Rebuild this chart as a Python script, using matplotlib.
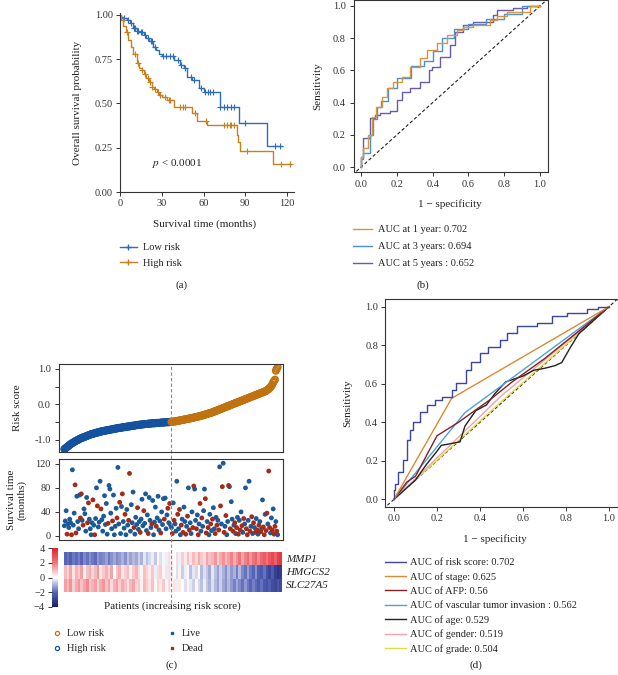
import numpy as np
import matplotlib.pyplot as plt
from matplotlib.colors import LinearSegmentedColormap
from matplotlib.lines import Line2D

plt.rcParams.update({
    "font.family": "serif",
    "font.serif": ["Liberation Serif", "DejaVu Serif"],
    "mathtext.fontset": "stix",
    "font.size": 8,
    "axes.linewidth": 0.8,
    "axes.edgecolor": "#333333",
    "text.color": "#222222",
    "xtick.color": "#333333", "ytick.color": "#333333",
    "xtick.labelsize": 7.5, "ytick.labelsize": 7.5,
    "xtick.major.size": 3, "ytick.major.size": 3,
    "xtick.major.width": 0.7, "ytick.major.width": 0.7,
})

# ---------------- (a) Kaplan-Meier ----------------
KM_LOW_T = [0, 1, 2, 3, 4.8, 7, 9.6, 12, 14, 17, 19, 21, 24, 26, 27.7, 30, 38.5, 43, 45.8,
            48, 51.9, 56.6, 60, 71.7, 85.4, 105.6, 116.7]
KM_LOW_S = [1.0, 0.99, 0.985, 0.98, 0.972, 0.955, 0.925, 0.91, 0.90, 0.887, 0.87, 0.85, 0.82,
            0.80, 0.78, 0.765, 0.746, 0.717, 0.70, 0.65, 0.633, 0.586, 0.567, 0.482, 0.388,
            0.262, 0.262]
KM_HIGH_T = [0, 1, 2.4, 4, 6, 8, 9.6, 12, 14, 15.6, 17, 19, 21, 22.8, 24.5, 26.4, 28, 30, 33.6,
             38.5, 51.9, 55, 62.5, 83.8, 85, 86, 110, 122.6]
KM_HIGH_S = [1.0, 0.97, 0.934, 0.90, 0.859, 0.82, 0.78, 0.727, 0.70, 0.689, 0.665, 0.642, 0.62,
             0.595, 0.58, 0.567, 0.55, 0.538, 0.52, 0.482, 0.445, 0.403, 0.378, 0.322, 0.284,
             0.233, 0.158, 0.158]
CENS_LOW = [3, 6, 8, 10, 11, 12.5, 13, 15, 16, 18, 20, 22, 23, 25, 31, 33, 36, 38, 42, 44, 47,
            51, 53, 58, 61, 63, 65, 67, 72, 75, 77, 80, 82, 90, 111, 115]
CENS_HIGH = [2, 5, 11, 13, 16, 18, 20, 21.5, 23, 25, 27, 29, 32, 35, 36, 43, 45, 47, 54, 62,
             75, 77, 79, 80, 82, 91, 116, 122]

# ---------------- (b) time-dependent ROC ----------------
ROC1_X = [0, 0.01, 0.04, 0.06, 0.084, 0.115, 0.143, 0.18, 0.227, 0.274, 0.33, 0.367, 0.423,
          0.479, 0.535, 0.572, 0.627, 0.72, 0.758, 0.814, 0.944, 1.0]
ROC1_Y = [0, 0.064, 0.116, 0.20, 0.31, 0.375, 0.437, 0.49, 0.53, 0.561, 0.623, 0.675, 0.727,
          0.772, 0.82, 0.851, 0.871, 0.882, 0.913, 0.938, 0.965, 1.0]
ROC3_X = [0, 0.01, 0.05, 0.065, 0.09, 0.11, 0.15, 0.20, 0.28, 0.35, 0.40, 0.45, 0.52, 0.60,
          0.70, 0.80, 0.90, 1.0]
ROC3_Y = [0, 0.05, 0.09, 0.20, 0.30, 0.37, 0.41, 0.49, 0.55, 0.63, 0.66, 0.72, 0.80, 0.86,
          0.89, 0.92, 0.95, 1.0]
ROC5_X = [0, 0.01, 0.022, 0.05, 0.078, 0.106, 0.162, 0.20, 0.227, 0.274, 0.33, 0.377, 0.395,
          0.441, 0.497, 0.525, 0.572, 0.627, 0.739, 0.758, 0.851, 0.926, 1.0]
ROC5_Y = [0, 0.06, 0.178, 0.178, 0.302, 0.32, 0.333, 0.35, 0.416, 0.468, 0.489, 0.53, 0.60,
          0.623, 0.685, 0.758, 0.84, 0.882, 0.903, 0.944, 0.975, 0.986, 1.0]
ROC_B_LABELS = ["AUC at 1 year: 0.702", "AUC at 3 years: 0.694", "AUC at 5 years : 0.652"]

# ---------------- (c) risk plot ----------------
RISK_SCORE = [
    -1.26, -1.24, -1.22, -1.20, -1.18, -1.16, -1.14, -1.12, -1.10, -1.09,
    -1.07, -1.06, -1.04, -1.03, -1.01, -1.00, -0.99, -0.97, -0.96, -0.95,
    -0.94, -0.93, -0.92, -0.91, -0.90, -0.89, -0.88, -0.87, -0.86, -0.85,
    -0.84, -0.83, -0.83, -0.82, -0.81, -0.80, -0.80, -0.79, -0.78, -0.78,
    -0.77, -0.76, -0.76, -0.75, -0.75, -0.74, -0.74, -0.73, -0.73, -0.72,
    -0.72, -0.71, -0.71, -0.70, -0.70, -0.69, -0.69, -0.68, -0.68, -0.67,
    -0.67, -0.66, -0.66, -0.66, -0.65, -0.65, -0.64, -0.64, -0.64, -0.63,
    -0.63, -0.62, -0.62, -0.62, -0.61, -0.61, -0.60, -0.60, -0.60, -0.59,
    -0.59, -0.58, -0.58, -0.58, -0.57, -0.57, -0.57, -0.56, -0.56, -0.56,
    -0.55, -0.55, -0.55, -0.55, -0.54, -0.54, -0.54, -0.54, -0.53, -0.53,
    -0.53, -0.53, -0.53, -0.52, -0.52, -0.52, -0.52, -0.52, -0.51, -0.51,
    -0.51, -0.51, -0.51, -0.50, -0.50, -0.50, -0.50, -0.50, -0.49, -0.49,
    -0.49, -0.49, -0.48, -0.48, -0.48, -0.47, -0.47, -0.46, -0.46, -0.45,
    -0.45, -0.44, -0.44, -0.43, -0.43, -0.42, -0.42, -0.41, -0.41, -0.40,
    -0.40, -0.39, -0.39, -0.38, -0.38, -0.37, -0.36, -0.36, -0.35, -0.35,
    -0.34, -0.33, -0.33, -0.32, -0.31, -0.31, -0.30, -0.29, -0.28, -0.28,
    -0.27, -0.26, -0.25, -0.24, -0.24, -0.23, -0.22, -0.21, -0.20, -0.19,
    -0.18, -0.17, -0.16, -0.15, -0.14, -0.13, -0.12, -0.11, -0.10, -0.09,
    -0.08, -0.07, -0.06, -0.05, -0.04, -0.03, -0.02, -0.01, 0.00, 0.01,
    0.02, 0.03, 0.04, 0.05, 0.06, 0.07, 0.08, 0.09, 0.10, 0.11,
    0.12, 0.13, 0.14, 0.15, 0.16, 0.17, 0.18, 0.19, 0.20, 0.21,
    0.22, 0.23, 0.24, 0.25, 0.26, 0.27, 0.28, 0.29, 0.30, 0.31,
    0.32, 0.33, 0.34, 0.35, 0.36, 0.37, 0.38, 0.40, 0.42, 0.44,
    0.46, 0.49, 0.52, 0.56, 0.62, 0.66, 0.70, 0.95, 1.00, 1.05,
]
SURV_TIME = [
    17, 25, 42, 3, 20, 14, 28, 22, 2, 110, 18, 38, 85, 5, 66, 24, 12, 68, 30, 70,
    26, 18, 45, 37, 8, 64, 22, 55, 28, 12, 2, 22, 60, 18, 2, 29, 80, 50, 15, 23,
    91, 45, 27, 8, 33, 67, 19, 54, 3, 21, 84, 78, 38, 12, 25, 68, 2, 16, 46, 30,
    114, 20, 56, 4, 49, 70, 24, 13, 36, 2, 44, 18, 26, 104, 8, 52, 22, 73, 14, 3,
    31, 19, 47, 11, 24, 6, 28, 61, 17, 42, 21, 70, 9, 35, 4, 64, 26, 14, 20, 59,
    2, 23, 48, 16, 30, 66, 10, 25, 5, 40, 19, 62, 28, 63, 12, 35, 46, 22, 54, 18,
    14, 4, 55, 26, 20, 8, 91, 36, 12, 44, 2, 18, 28, 6, 48, 24, 3, 16, 33, 80,
    10, 22, 4, 40, 14, 83, 78, 26, 12, 35, 2, 20, 54, 8, 30, 16, 42, 78, 62, 5,
    24, 14, 2, 36, 20, 9, 28, 47, 12, 4, 31, 18, 26, 10, 115, 50, 20, 82, 121, 6,
    16, 34, 2, 24, 84, 82, 12, 57, 28, 8, 18, 22, 4, 14, 31, 3, 26, 10, 40, 17,
    6, 29, 20, 80, 12, 2, 26, 91, 8, 16, 32, 4, 22, 14, 6, 29, 10, 3, 18, 24,
    7, 12, 60, 15, 2, 36, 9, 38, 20, 108, 14, 5, 30, 10, 45, 3, 16, 24, 8, 2,
]
DEAD = [
    0, 0, 0, 1, 0, 0, 0, 0, 1, 0, 0, 0, 1, 1, 0, 0, 0, 0, 1, 1,
    0, 1, 0, 0, 0, 0, 1, 1, 0, 0, 0, 0, 1, 0, 1, 0, 0, 1, 0, 0,
    0, 1, 0, 0, 0, 0, 0, 0, 0, 1, 0, 0, 0, 0, 1, 0, 0, 0, 0, 1,
    0, 0, 1, 0, 0, 1, 0, 0, 1, 0, 0, 0, 1, 1, 0, 0, 0, 0, 1, 0,
    0, 0, 1, 0, 0, 1, 0, 0, 0, 1, 0, 0, 0, 0, 1, 0, 0, 0, 1, 0,
    0, 0, 0, 1, 0, 0, 0, 0, 1, 0, 0, 0, 1, 0, 0, 0, 1, 0, 1, 0,
    0, 1, 0, 1, 0, 0, 0, 1, 0, 1, 0, 1, 0, 1, 0, 0, 1, 0, 1, 0,
    1, 0, 0, 0, 1, 1, 0, 0, 1, 0, 1, 0, 1, 0, 1, 0, 0, 0, 1, 1,
    0, 1, 0, 0, 1, 0, 1, 0, 0, 1, 0, 1, 0, 1, 0, 1, 0, 1, 0, 1,
    0, 1, 0, 0, 1, 0, 1, 0, 0, 1, 0, 1, 0, 1, 0, 1, 0, 1, 0, 1,
    0, 1, 0, 0, 1, 1, 0, 0, 1, 0, 1, 0, 1, 0, 1, 0, 1, 0, 1, 0,
    1, 0, 0, 1, 1, 0, 1, 1, 0, 1, 1, 0, 0, 1, 0, 1, 1, 0, 1, 0,
]
GENES = ["MMP1", "HMGCS2", "SLC27A5"]
EXPR_MMP1 = [
    -2.0, -1.8, -2.1, -1.7, -1.9, -1.6, -2.0, -1.5, -1.8, -1.4, -1.7, -1.9, -1.3, -1.6, -1.5, -1.2, -1.7, -1.4, -1.1, -1.5,
    -1.3, -1.0, -1.4, -0.8, -1.2, -0.9, -1.1, -0.6, -1.0, -0.3, -0.8, -0.5, -0.2, -0.7, 0.1, -0.4, -0.1, 0.3, -0.3, 0.2,
    0.0, 0.5, -0.2, 0.7, 0.3, 0.9, 0.4, 1.0, 0.6, 1.2, 0.8, 0.5, 1.3, 0.9, 1.1, 1.5, 0.7, 1.2, 1.6, 1.0,
    1.4, 1.8, 1.1, 1.6, 2.0, 1.3, 1.8, 2.2, 1.5, 2.0, 2.4, 1.7, 2.3, 2.6, 2.0, 2.7, 3.0, 2.5, 3.2, 3.4,
]
EXPR_HMGCS2 = [
    1.0, 0.6, 1.3, 0.4, 1.1, 0.8, 1.4, 0.2, 0.9, 1.2, 0.5, 1.0, 1.5, 0.3, 0.8, 1.1, 0.6, 1.3, 0.0, 0.9,
    1.2, 0.4, 0.7, 1.0, 0.2, 0.8, 1.1, 0.5, -0.1, 0.9, 0.6, 0.3, 0.8, -0.2, 0.5, 0.7, 0.1, 0.4, -0.3, 0.3,
    0.0, -0.4, 0.2, -0.6, -0.2, 0.1, -0.8, -0.3, -0.5, 0.0, -0.9, -0.4, -0.7, -1.1, -0.3, -0.8, -1.2, -0.6, -1.0, -1.4,
    -0.8, -1.3, -1.0, -1.6, -0.9, -1.5, -1.8, -1.2, -1.7, -2.0, -1.4, -2.1, -2.3, -1.8, -2.5, -2.8, -2.2, -3.0, -3.3, -3.1,
]
EXPR_SLC27A5 = [
    1.4, 1.0, 1.6, 0.7, 1.2, 1.5, 0.9, 1.3, 1.7, 0.8, 1.1, 1.4, 0.6, 1.2, 1.5, 0.9, 1.3, 0.5, 1.1, 1.4,
    0.7, 1.2, 0.9, 0.4, 1.0, 1.3, 0.6, 0.8, 0.2, 1.0, 0.7, 0.4, 0.9, 0.1, 0.6, 0.3, 0.8, -0.1, 0.5, 0.2,
    0.4, -0.2, 0.3, 0.0, -0.4, 0.2, -0.3, -0.6, 0.1, -0.5, -0.8, -0.2, -0.7, -1.0, -0.4, -0.9, -1.2, -0.6, -1.1, -1.4,
    -0.9, -1.3, -1.6, -1.1, -1.5, -1.8, -1.3, -1.7, -2.0, -1.6, -1.9, -2.2, -1.8, -2.3, -2.5, -2.1, -2.6, -2.8, -2.4, -2.7,
]

# ---------------- (d) ROC of clinical factors ----------------
ROCD = [
    ("AUC of risk score: 0.702", "#3B479C",
     [0, 0.005, 0.02, 0.043, 0.059, 0.074, 0.09, 0.121, 0.152, 0.19, 0.222, 0.268, 0.29, 0.337,
      0.36, 0.40, 0.439, 0.493, 0.524, 0.571, 0.664, 0.733, 0.803, 0.896, 0.95, 1.0],
     [0, 0.047, 0.08, 0.142, 0.203, 0.307, 0.36, 0.403, 0.455, 0.49, 0.516, 0.533, 0.568, 0.603,
      0.672, 0.715, 0.759, 0.793, 0.828, 0.863, 0.898, 0.915, 0.95, 0.967, 0.99, 1.0]),
    ("AUC of stage: 0.625", "#D98A35", [0, 0.268, 1.0], [0, 0.524, 1.0]),
    ("AUC of AFP: 0.56", "#8B1E22",
     [0, 0.06, 0.10, 0.20, 0.30, 0.45, 0.55, 0.70, 1.0],
     [0, 0.09, 0.12, 0.33, 0.40, 0.52, 0.61, 0.73, 1.0]),
    ("AUC of vascular tumor invasion : 0.562", "#4BA3D9", [0, 0.33, 1.0], [0, 0.45, 1.0]),
    ("AUC of age: 0.529", "#222222",
     [0, 0.05, 0.10, 0.15, 0.20, 0.22, 0.307, 0.33, 0.38, 0.43, 0.47, 0.52, 0.60, 0.65, 0.70,
      0.749, 0.78, 0.819, 0.86, 0.90, 0.95, 1.0],
     [0, 0.05, 0.10, 0.18, 0.25, 0.28, 0.298, 0.38, 0.46, 0.49, 0.55, 0.61, 0.64, 0.67, 0.68,
      0.694, 0.71, 0.786, 0.86, 0.90, 0.95, 1.0]),
    ("AUC of gender: 0.519", "#F3A2AE", [0, 0.5, 1.0], [0, 0.538, 1.0]),
    ("AUC of grade: 0.504", "#E2DB45", [0, 0.5, 1.0], [0, 0.508, 1.0]),
]

BLUE, ORANGE = "#2E6DBA", "#C8801E"
RISK_BLUE, RISK_ORANGE = "#1452A0", "#C0720F"
LIVE_BLUE, DEAD_RED = "#1B5A98", "#A52A17"

W, H = 618, 675
fig = plt.figure(figsize=(W / 100, H / 100), dpi=100)


def rect(l, t, r, b):
    return [l / W, 1 - b / H, (r - l) / W, (b - t) / H]


def ftext(x, y, s, **kw):
    kw.setdefault("ha", "center")
    kw.setdefault("va", "center")
    fig.text(x / W, 1 - y / H, s, **kw)


def fig_legend(handles, labels, x, y, **kw):
    kw.setdefault("fontsize", 7.5)
    return fig.legend(handles, labels, loc="upper left", bbox_to_anchor=(x / W, 1 - y / H),
                      frameon=False, borderpad=0, borderaxespad=0, **kw)


def step_value(times, surv, t):
    i = np.searchsorted(times, t, side="right") - 1
    return np.asarray(surv)[i]


# ---- (a)
axa = fig.add_axes(rect(120, 13, 294, 192))
for T, S, C, col in [(KM_LOW_T, KM_LOW_S, CENS_LOW, BLUE), (KM_HIGH_T, KM_HIGH_S, CENS_HIGH, ORANGE)]:
    axa.step(T, S, where="post", color=col, lw=1.0)
    axa.plot(C, step_value(T, S, C), "+", color=col, ms=4, mew=0.8)
axa.set_xlim(0, 125)
axa.set_ylim(0, 1.01)
axa.set_xticks([0, 30, 60, 90, 120])
axa.set_yticks([0, 0.25, 0.5, 0.75, 1.0])
axa.set_yticklabels(["0.00", "0.25", "0.50", "0.75", "1.00"])
axa.spines[["top", "right"]].set_visible(False)
axa.tick_params(pad=2)
axa.text(23, 0.16, "$p$ < 0.0001", fontsize=8, ha="left", va="center")
ftext(205, 224, "Survival time (months)", fontsize=8)
ftext(77, 103, "Overall survival probability", fontsize=8, rotation=90)
fig_legend([Line2D([], [], color=BLUE, marker="+", ms=4, lw=1),
            Line2D([], [], color=ORANGE, marker="+", ms=4, lw=1)],
           ["Low risk", "High risk"], 120, 243, handlelength=1.6, handletextpad=0.6,
           labelspacing=0.6)
ftext(182, 285, "(a)", fontsize=8)

# ---- (b)
axb = fig.add_axes(rect(354, 0, 548, 172))
axb.plot([-0.05, 1.06], [-0.05, 1.06], ls="--", color="#222222", lw=0.8, dashes=(3, 2))
for X, Y, col in [(ROC5_X, ROC5_Y, "#6B5AA6"), (ROC3_X, ROC3_Y, "#4C8FD6"), (ROC1_X, ROC1_Y, "#D8963A")]:
    axb.plot(X, Y, drawstyle="steps-pre", color=col, lw=1.0)
axb.set_xlim(-0.04, 1.045)
axb.set_ylim(-0.031, 1.037)
axb.set_xticks(np.arange(0, 1.01, 0.2))
axb.set_yticks(np.arange(0, 1.01, 0.2))
axb.xaxis.set_major_formatter("{x:.1f}")
axb.yaxis.set_major_formatter("{x:.1f}")
axb.tick_params(axis="y", pad=3)
axb.tick_params(axis="x", pad=3)
ftext(450, 204, "1 \u2212 specificity", fontsize=8)
ftext(318, 86, "Sensitivity", fontsize=8, rotation=90)
fig_legend([Line2D([], [], color=c, lw=1) for c in ["#D8963A", "#4C8FD6", "#6B5AA6"]],
           ROC_B_LABELS, 353, 225, handlelength=1.8, handletextpad=0.6, labelspacing=0.75)
ftext(423, 285, "(b)", fontsize=8)

# ---- (c)
risk = np.array(RISK_SCORE)
stime = np.array(SURV_TIME)
dead = np.array(DEAD, dtype=bool)
n = len(risk)
idx = np.arange(n)
cut = n // 2
xl = (-0.025 * n, n - 1 + 0.025 * n)

axr = fig.add_axes(rect(59, 364, 283, 452))
axr.scatter(idx[:cut], risk[:cut], s=20, facecolors="none", edgecolors=RISK_BLUE, linewidths=1.3)
axr.scatter(idx[cut:], risk[cut:], s=20, facecolors="none", edgecolors=RISK_ORANGE, linewidths=1.3)
axr.set_xlim(xl)
axr.set_ylim(-1.34, 1.14)
axr.set_xticks([])
axr.set_yticks([-1, -0.5, 0, 0.5, 1])
axr.set_yticklabels(["-1.0", "", "0.0", "", "1.0"])
axr.tick_params(pad=3)
axr.set_zorder(5)
axr.patch.set_alpha(0)
axr.axvline(cut - 0.5, ymin=-(603 - 452) / 88, ymax=1, clip_on=False, color="#8A8A8A",
            ls="--", lw=0.8, dashes=(3, 2))
ftext(18, 408, "Risk score", fontsize=8, rotation=90)

axs = fig.add_axes(rect(59, 459, 283, 540))
axs.scatter(idx[~dead], stime[~dead], s=12, color=LIVE_BLUE, edgecolors="none")
axs.scatter(idx[dead], stime[dead], s=12, color=DEAD_RED, edgecolors="none")
axs.set_xlim(xl)
axs.set_ylim(-6.7, 128)
axs.set_xticks([])
axs.set_yticks([0, 40, 80, 120])
axs.tick_params(pad=3)
ftext(17, 500, "Survival time\n(months)", fontsize=8, rotation=90, linespacing=1.1)

cmap = LinearSegmentedColormap.from_list(
    "navy_red", ["#1A1F6B", "#5563B8", "#FFFFFF", "#EF767C", "#E1202A"])
heat = np.array([EXPR_MMP1, EXPR_HMGCS2, EXPR_SLC27A5])
axh = fig.add_axes(rect(64, 552, 282, 592))
im = axh.imshow(heat, aspect="auto", cmap=cmap, vmin=-4, vmax=4, interpolation="nearest")
axh.axis("off")
for k, g in enumerate(GENES):
    ftext(286, 559 + k * 13.5, g, fontsize=8, style="italic", ha="left")

cax = fig.add_axes(rect(52, 548, 58, 607))
cb = fig.colorbar(im, cax=cax, ticks=[-4, -2, 0, 2, 4])
cb.outline.set_visible(False)
cax.yaxis.set_ticks_position("left")
cax.tick_params(length=3, pad=2, labelsize=7.5)
ftext(172, 606, "Patients (increasing risk score)", fontsize=8)

fig_legend([Line2D([], [], ls="", marker="o", mfc="none", mec=RISK_ORANGE, ms=3, mew=0.9),
            Line2D([], [], ls="", marker="o", mfc="none", mec=RISK_BLUE, ms=3, mew=0.9),
            Line2D([], [], ls="", marker="s", color=LIVE_BLUE, ms=1.8),
            Line2D([], [], ls="", marker="s", color=DEAD_RED, ms=1.8)],
           ["Low risk", "High risk", "Live", "Dead"], 52, 629, ncol=2,
           handlelength=1.0, handletextpad=0.4, labelspacing=0.55, columnspacing=5.9)
ftext(172, 665, "(c)", fontsize=8)

# ---- (d)
axd = fig.add_axes(rect(385, 299, 618, 507))
axd.plot([-0.05, 1.06], [-0.05, 1.06], ls="--", color="#222222", lw=0.8, dashes=(3, 2))
for label, col, X, Y in reversed(ROCD):
    ds = "steps-pre" if label.startswith("AUC of risk") else "default"
    axd.plot(X, Y, color=col, lw=1.0, drawstyle=ds)
handles = [Line2D([], [], color=col, lw=1.0) for _, col, _, _ in ROCD]
axd.set_xlim(-0.042, 1.042)
axd.set_ylim(-0.04, 1.04)
axd.set_xticks(np.arange(0, 1.01, 0.2))
axd.set_yticks(np.arange(0, 1.01, 0.2))
axd.xaxis.set_major_formatter("{x:.1f}")
axd.yaxis.set_major_formatter("{x:.1f}")
axd.tick_params(pad=2)
ftext(495, 539, "1 \u2212 specificity", fontsize=8)
ftext(348, 403, "Sensitivity", fontsize=8, rotation=90)
fig_legend(handles, [r[0] for r in ROCD], 385, 558, handlelength=2.0, handletextpad=0.4,
           labelspacing=0.47)
ftext(476, 665, "(d)", fontsize=8)

fig.savefig("out.png", dpi=100, facecolor="white")
